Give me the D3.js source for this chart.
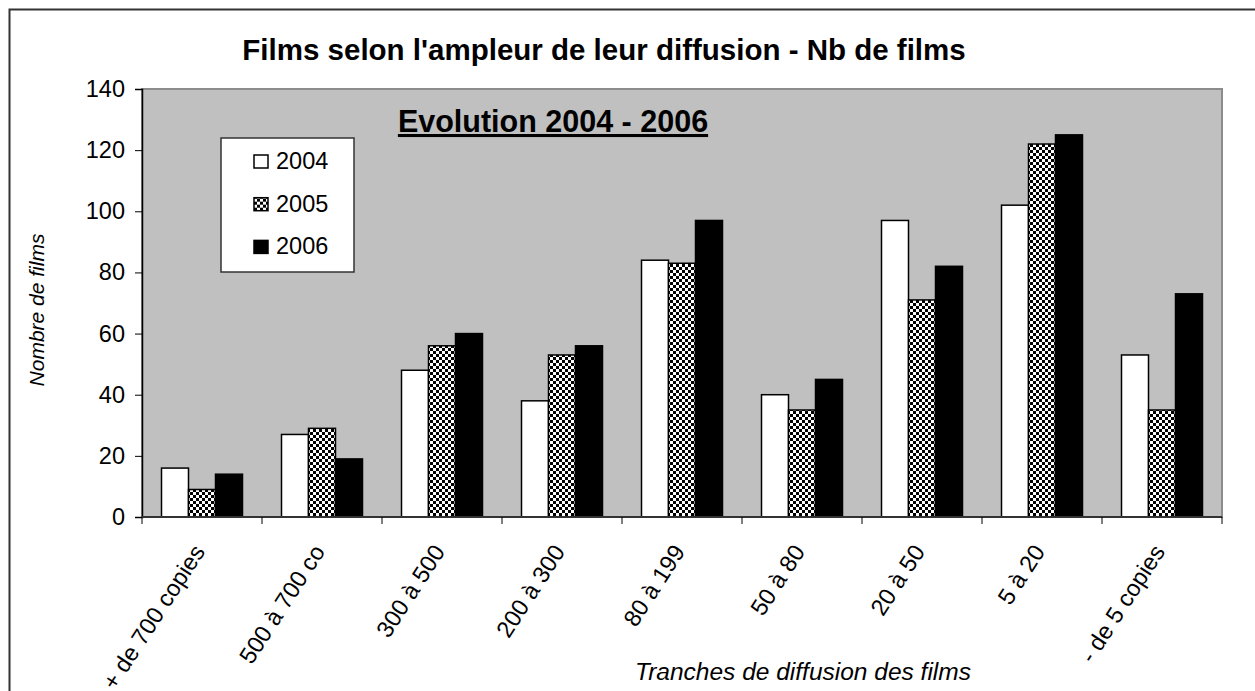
<!DOCTYPE html>
<html lang="fr">
<head>
<meta charset="utf-8">
<title>Films selon l'ampleur de leur diffusion</title>
<script src="https://d3js.org/d3.v7.min.js"></script>
<style>
  body { margin: 0; background: #fff; }
  svg { display: block; font-family: "Liberation Sans", Arial, sans-serif; }
  .axis text { font-size: 23.5px; fill: #000; }
</style>
</head>
<body>
<script>
// categories and values
var categories = ["+ de 700 copies", "500 à 700 co", "300 à 500", "200 à 300", "80 à 199",
                  "50 à 80", "20 à 50", "5 à 20", "- de 5 copies"];
var years = ["2004", "2005", "2006"];
var v2004 = [16, 27, 48, 38, 84, 40, 97, 102, 53];
var v2005 = [9, 29, 56, 53, 83, 35, 71, 122, 35];
var v2006 = [14, 19, 60, 56, 97, 45, 82, 125, 73];
var yTicks = [0, 20, 40, 60, 80, 100, 120, 140];

var series = [v2004, v2005, v2006];

var w = 1255, h = 691;
var m = {left: 142, right: 1222, top: 89, bottom: 517};

var svg = d3.select("body").append("svg")
  .attr("width", w)
  .attr("height", h);

// checker pattern for 2005
var defs = svg.append("defs");
var pat = defs.append("pattern")
  .attr("id", "checker")
  .attr("patternUnits", "userSpaceOnUse")
  .attr("width", 6).attr("height", 6);
pat.append("rect").attr("width", 6).attr("height", 6).attr("fill", "#fff");
pat.append("rect").attr("x", 0).attr("y", 0).attr("width", 3).attr("height", 3).attr("fill", "#000");
pat.append("rect").attr("x", 3).attr("y", 3).attr("width", 3).attr("height", 3).attr("fill", "#000");

var fills = ["#fff", "url(#checker)", "#000"];

// outer chart border (left and top only visible)
svg.append("path")
  .attr("d", "M9.5,691V9.5H1255")
  .attr("fill", "none")
  .attr("stroke", "#333")
  .attr("stroke-width", 2);

var x0 = d3.scaleBand()
  .domain(categories)
  .range([m.left, m.right]);

var x1 = d3.scaleBand()
  .domain(years)
  .range([x0.bandwidth() * 0.1625, x0.bandwidth() * 0.8375]);

var y = d3.scaleLinear()
  .domain([0, 140])
  .range([m.bottom, m.top]);

// plot area
svg.append("rect")
  .attr("x", m.left).attr("y", m.top)
  .attr("width", m.right - m.left)
  .attr("height", m.bottom - m.top)
  .attr("fill", "#c0c0c0")
  .attr("stroke", "#8c8c8c")
  .attr("stroke-width", 2);

// bars
var groups = svg.append("g").selectAll("g")
  .data(categories)
  .enter().append("g")
  .attr("transform", function(d) { return "translate(" + x0(d) + ",0)"; });

groups.selectAll("rect")
  .data(function(d, i) { return series.map(function(s, j) { return {year: years[j], value: s[i], j: j}; }); })
  .enter().append("rect")
  .attr("x", function(d) { return x1(d.year); })
  .attr("y", function(d) { return y(d.value); })
  .attr("width", x1.bandwidth())
  .attr("height", function(d) { return y(0) - y(d.value); })
  .attr("fill", function(d) { return fills[d.j]; })
  .attr("stroke", "#000")
  .attr("stroke-width", 1.5);

// y axis
var yAxis = svg.append("g")
  .attr("class", "axis")
  .attr("transform", "translate(" + m.left + ",0)")
  .call(d3.axisLeft(y).tickValues(yTicks).tickSize(7).tickPadding(10));
yAxis.select(".domain").attr("stroke", "#000").attr("stroke-width", 1.5);
yAxis.selectAll(".tick line").attr("stroke", "#000");

// x axis with ticks on group boundaries
var xAxis = svg.append("g")
  .attr("class", "axis")
  .attr("transform", "translate(0," + m.bottom + ")");
xAxis.append("line")
  .attr("x1", m.left).attr("x2", m.right)
  .attr("stroke", "#333").attr("stroke-width", 2);
xAxis.selectAll(".xt")
  .data(categories.concat(["end"]))
  .enter().append("line")
  .attr("class", "xt")
  .attr("x1", function(d, i) { return m.left + i * x0.bandwidth(); })
  .attr("x2", function(d, i) { return m.left + i * x0.bandwidth(); })
  .attr("y1", 0).attr("y2", 7)
  .attr("stroke", "#000");
xAxis.selectAll(".xl")
  .data(categories)
  .enter().append("text")
  .attr("class", "xl")
  .attr("text-anchor", "end")
  .attr("transform", function(d) {
    return "translate(" + (x0(d) + x0.bandwidth() / 2 - 11) + ",25) rotate(-57)";
  })
  .attr("dy", "0.75em")
  .text(function(d) { return d; });

// titles
svg.append("text")
  .attr("x", 604).attr("y", 60)
  .attr("text-anchor", "middle")
  .style("font-size", "29.5px")
  .style("font-weight", "bold")
  .text("Films selon l'ampleur de leur diffusion - Nb de films");

svg.append("text")
  .attr("x", 553).attr("y", 132)
  .attr("text-anchor", "middle")
  .style("font-size", "30.5px")
  .style("font-weight", "bold")
  .style("text-decoration", "underline")
  .text("Evolution 2004 - 2006");

svg.append("text")
  .attr("transform", "translate(44,310) rotate(-90)")
  .attr("text-anchor", "middle")
  .style("font-size", "21px")
  .style("font-style", "italic")
  .text("Nombre de films");

svg.append("text")
  .attr("x", 803).attr("y", 680)
  .attr("text-anchor", "middle")
  .style("font-size", "24.5px")
  .style("font-style", "italic")
  .text("Tranches de diffusion des films");

// legend
var lg = svg.append("g").attr("transform", "translate(221,138)");
lg.append("rect")
  .attr("width", 133).attr("height", 134)
  .attr("fill", "#fff")
  .attr("stroke", "#333")
  .attr("stroke-width", 1.5);
var item = lg.selectAll(".item")
  .data(years)
  .enter().append("g")
  .attr("class", "item")
  .attr("transform", function(d, i) { return "translate(0," + (i * 42.7) + ")"; });
item.append("rect")
  .attr("x", 33).attr("y", 17)
  .attr("width", 14).attr("height", 13)
  .attr("fill", function(d, i) { return fills[i]; })
  .attr("stroke", "#000")
  .attr("stroke-width", 1.5);
item.append("text")
  .attr("x", 55).attr("y", 31)
  .style("font-size", "23.5px")
  .text(function(d) { return d; });
</script>
</body>
</html>
